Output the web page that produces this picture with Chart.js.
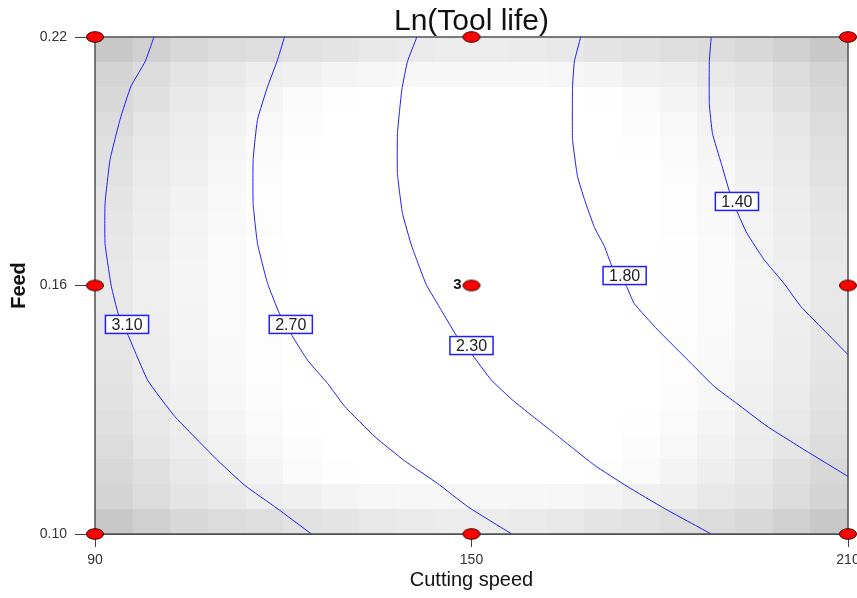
<!DOCTYPE html>
<html lang="en">
<head>
<meta charset="UTF-8" />
<title>Ln(Tool life)</title>
<script src="https://cdn.jsdelivr.net/npm/chart.js@4.4.1/dist/chart.umd.min.js"></script>
<style>
  html, body { margin: 0; padding: 0; background: #fff; }
</style>
</head>
<body>
<canvas id="chart" width="857" height="598"></canvas>
<script>
const FONT = "'Liberation Sans', Arial, sans-serif";

// axes
const xRange = [90, 210];
const yRange = [0.10, 0.22];
const xTicks = [90, 150, 210];
const yTicks = [0.10, 0.16, 0.22];

// design points (cutting speed, feed); the centre point has 3 runs
const ptSpeed = [90, 150, 210, 90, 150, 210, 90, 150, 210];
const ptFeed = [0.10, 0.10, 0.10, 0.16, 0.16, 0.16, 0.22, 0.22, 0.22];
const centreRuns = '3';

// contour lines
const c310x = [99.4, 98.0, 95.7, 94.0, 92.4, 91.6, 91.6, 92.6, 93.7, 95.3, 98.4, 102.7, 109.6, 113.9, 119.0, 124.5];
const c310y = [0.220, 0.2141, 0.2080, 0.2001, 0.1904, 0.1798, 0.1701, 0.1598, 0.1532, 0.1479, 0.1371, 0.1284, 0.1177, 0.1117, 0.1062, 0.100];

const c270x = [120.2, 119.0, 117.5, 115.9, 115.2, 115.2, 115.9, 117.5, 119.4, 121.4, 123.9, 127.1, 129.8, 134.6, 139.3, 144.6, 149.4, 156.4];
const c270y = [0.220, 0.2141, 0.2080, 0.2001, 0.1904, 0.1798, 0.1701, 0.1605, 0.1532, 0.1479, 0.1419, 0.1363, 0.1308, 0.1235, 0.1177, 0.1122, 0.1066, 0.100];

const c230x = [141.3, 139.8, 138.9, 138.2, 138.2, 139.0, 140.5, 142.8, 145.2, 147.6, 150.2, 153.2, 156.8, 163.2, 169.6, 174.8, 180.7, 188.2];
const c230y = [0.220, 0.2141, 0.2073, 0.1967, 0.1870, 0.1774, 0.1694, 0.1602, 0.1540, 0.1479, 0.1431, 0.1371, 0.1320, 0.1243, 0.1166, 0.1115, 0.1062, 0.100];

const c180x = [167.4, 166.4, 166.1, 166.1, 166.9, 168.0, 169.6, 171.2, 172.4, 174.7, 175.9, 179.6, 185.0, 188.7, 192.3, 197.1, 203.5, 210.0];
const c180y = [0.220, 0.2141, 0.2080, 0.1953, 0.1863, 0.1808, 0.1740, 0.1694, 0.1646, 0.1598, 0.1557, 0.1494, 0.1412, 0.1356, 0.1315, 0.1260, 0.1199, 0.1139];

const c140x = [188.2, 187.9, 187.9, 188.4, 189.8, 191.1, 192.3, 193.9, 196.6, 199.8, 202.5, 206.7, 210.0];
const c140y = [0.220, 0.2141, 0.2039, 0.1967, 0.1895, 0.1827, 0.1779, 0.1726, 0.1663, 0.1605, 0.1549, 0.1484, 0.1433];

// contour labels
const levels = ['3.10', '2.70', '2.30', '1.80', '1.40'];
const labelX = [95.1, 121.2, 150.0, 174.4, 192.3];
const labelY = [0.1506, 0.1506, 0.1455, 0.1624, 0.1803];

// grey background cells (std error shading), rows from feed 0.22 down to 0.10
const shade = [
  [200,208,216,220,222,226,228,232,234,236,236,234,232,228,226,222,220,216,208,200],
  [212,220,228,232,238,240,244,246,247,247,247,247,246,244,240,238,232,228,220,212],
  [216,224,232,238,244,250,254,255,255,255,255,255,255,254,250,244,238,232,224,216],
  [220,230,236,242,248,252,255,255,255,255,255,255,255,255,252,248,242,236,230,220],
  [224,232,238,245,250,254,255,255,255,255,255,255,255,255,254,250,245,238,232,224],
  [226,234,240,247,252,255,255,255,255,255,255,255,255,255,255,252,247,240,234,226],
  [228,236,242,248,253,255,255,255,255,255,255,255,255,255,255,253,248,242,236,228],
  [230,237,243,249,253,255,255,255,255,255,255,255,255,255,255,253,249,243,237,230],
  [231,238,244,250,254,255,255,255,255,255,255,255,255,255,255,254,250,244,238,231],
  [232,239,245,250,254,255,255,255,255,255,255,255,255,255,255,254,250,245,239,232],
  [232,239,245,250,254,255,255,255,255,255,255,255,255,255,255,254,250,245,239,232],
  [231,238,244,250,254,255,255,255,255,255,255,255,255,255,255,254,250,244,238,231],
  [230,237,243,249,253,255,255,255,255,255,255,255,255,255,255,253,249,243,237,230],
  [228,236,242,248,253,255,255,255,255,255,255,255,255,255,255,253,248,242,236,228],
  [226,234,240,247,252,255,255,255,255,255,255,255,255,255,255,252,247,240,234,226],
  [224,232,238,245,250,254,255,255,255,255,255,255,255,255,254,250,245,238,232,224],
  [220,230,236,242,248,252,255,255,255,255,255,255,255,255,252,248,242,236,230,220],
  [216,224,232,238,244,250,254,255,255,255,255,255,255,254,250,244,238,232,224,216],
  [212,220,228,232,238,240,244,246,247,247,247,247,246,244,240,238,232,228,220,212],
  [200,208,216,220,222,226,228,232,234,236,236,234,232,228,226,222,220,216,208,200]
];

const zip = (xs, ys) => xs.map((v, i) => ({ x: v, y: ys[i] }));

// red ellipse marker
const dot = document.createElement('canvas');
dot.width = 20; dot.height = 14;
const dc = dot.getContext('2d');
dc.beginPath();
dc.ellipse(10, 7, 8.5, 5.3, 0, 0, Math.PI * 2);
dc.fillStyle = '#ff0000';
dc.fill();
dc.strokeStyle = '#3a0000';
dc.lineWidth = 1;
dc.stroke();

const lineStyle = {
  showLine: true, pointRadius: 0, borderColor: 'rgb(30,30,255)',
  borderWidth: 1, tension: 0.12, fill: false
};

const datasets = [
  { label: 'points', data: zip(ptSpeed, ptFeed), pointStyle: dot, pointRadius: 8, clip: false, showLine: false },
  { label: '3.10', data: zip(c310x, c310y), ...lineStyle },
  { label: '2.70', data: zip(c270x, c270y), ...lineStyle },
  { label: '2.30', data: zip(c230x, c230y), ...lineStyle },
  { label: '1.80', data: zip(c180x, c180y), ...lineStyle },
  { label: '1.40', data: zip(c140x, c140y), ...lineStyle }
];

const extras = {
  id: 'extras',
  beforeDatasetsDraw(chart) {
    const { ctx, chartArea: a, scales: { x, y } } = chart;
    const rows = shade.length, cols = shade[0].length;
    const dx = (xRange[1] - xRange[0]) / cols;
    const dy = (yRange[1] - yRange[0]) / rows;
    ctx.save();
    for (let i = 0; i < rows; i++) {
      for (let j = 0; j < cols; j++) {
        const x0 = Math.round(x.getPixelForValue(xRange[0] + j * dx));
        const x1 = Math.round(x.getPixelForValue(xRange[0] + (j + 1) * dx));
        const y0 = Math.round(y.getPixelForValue(yRange[1] - i * dy));
        const y1 = Math.round(y.getPixelForValue(yRange[1] - (i + 1) * dy));
        const g = shade[i][j];
        ctx.fillStyle = 'rgb(' + g + ',' + g + ',' + g + ')';
        ctx.fillRect(x0, y0, x1 - x0, y1 - y0);
      }
    }
    ctx.strokeStyle = '#505050';
    ctx.lineWidth = 1.5;
    ctx.strokeRect(a.left, a.top, a.right - a.left, a.bottom - a.top);
    ctx.restore();
  },
  afterDatasetsDraw(chart) {
    const { ctx, scales: { x, y } } = chart;
    ctx.save();
    ctx.font = '16px ' + FONT;
    ctx.textAlign = 'center';
    ctx.textBaseline = 'middle';
    levels.forEach((t, i) => {
      const px = x.getPixelForValue(labelX[i]);
      const py = y.getPixelForValue(labelY[i]);
      const w = ctx.measureText(t).width + 12;
      const h = 18;
      ctx.fillStyle = '#fff';
      ctx.fillRect(px - w / 2, py - h / 2, w, h);
      ctx.strokeStyle = 'rgb(30,30,255)';
      ctx.lineWidth = 1.5;
      ctx.strokeRect(px - w / 2, py - h / 2, w, h);
      ctx.fillStyle = '#222';
      ctx.fillText(t, px, py + 1);
    });
    // run count next to the centre point
    ctx.font = 'bold 15px ' + FONT;
    ctx.textAlign = 'right';
    ctx.fillStyle = '#111';
    ctx.fillText(centreRuns, x.getPixelForValue(150) - 10, y.getPixelForValue(0.16) - 1);
    ctx.restore();
  }
};

new Chart(document.getElementById('chart'), {
  type: 'scatter',
  data: { datasets },
  plugins: [extras],
  options: {
    responsive: false,
    animation: false,
    layout: { padding: { left: 0, right: 8, top: 0, bottom: 0 } },
    plugins: {
      legend: { display: false },
      tooltip: { enabled: false },
      title: {
        display: true, text: 'Ln(Tool life)', fullSize: false, color: '#111',
        font: { family: FONT, size: 30, weight: 'normal', lineHeight: 1.0 },
        padding: { top: 7, bottom: 0 }
      }
    },
    scales: {
      x: {
        type: 'linear', min: xRange[0], max: xRange[1],
        afterBuildTicks: s => { s.ticks = xTicks.map(v => ({ value: v })); },
        afterFit: s => { s.height = 64; s.paddingLeft = 0; s.paddingRight = 0; },
        grid: { drawOnChartArea: false, drawTicks: true, tickLength: 13, tickColor: '#444', lineWidth: 1 },
        border: { display: true, color: '#505050' },
        ticks: { color: '#333', padding: 5, font: { family: FONT, size: 14 }, callback: v => String(v) },
        title: { display: true, text: 'Cutting speed', color: '#111', font: { family: FONT, size: 20 }, padding: { top: 0, bottom: 6 } }
      },
      y: {
        type: 'linear', min: yRange[0], max: yRange[1],
        afterBuildTicks: s => { s.ticks = yTicks.map(v => ({ value: v })); },
        afterFit: s => { s.width = 95; s.paddingTop = 0; s.paddingBottom = 0; },
        grid: { drawOnChartArea: false, drawTicks: true, tickLength: 20, tickColor: '#444', lineWidth: 1 },
        border: { display: true, color: '#505050' },
        ticks: { color: '#333', padding: 8, font: { family: FONT, size: 14 }, callback: v => Number(v).toFixed(2) },
        title: { display: true, text: 'Feed', color: '#111', font: { family: FONT, size: 20, weight: 'bold' }, padding: { top: 7, bottom: 0 } }
      }
    }
  }
});
</script>
</body>
</html>
